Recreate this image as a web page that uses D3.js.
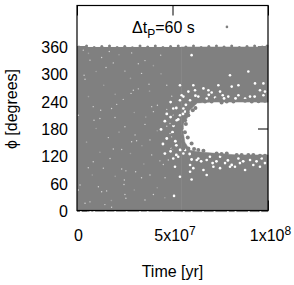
<!DOCTYPE html>
<html>
<head>
<meta charset="utf-8">
<script src="https://cdn.jsdelivr.net/npm/d3@7"></script>
<style>
  body { margin: 0; background: #fff; }
  text { font-family: "Liberation Sans", sans-serif; font-size: 16px; fill: #000; }
</style>
</head>
<body>
<div id="chart"></div>
<script>
// all values: time in Myr, phi in degrees
var yTicks = [0, 60, 120, 180, 240, 300, 360];
var xTicks = [0, 50, 100];
var xTickBase = ["0", "5x10", "1x10"];
var xTickExp = ["", "7", "8"];

// the dense cloud is too thick to read point by point, so it is kept as an outline:
// it fills 0-360 apart from the empty region between holeLow and holeHigh
var holeTime = [54.5, 55.5, 56.5, 59, 63, 71, 84, 100];
var holeLow = [180, 175, 150, 133, 129, 126, 122, 122];
var holeHigh = [180, 185, 200, 220, 236, 238, 238, 238];

// white specks inside the cloud [time, phi]
var gapsUpperLeft = [[43.8,341],[12.9,336],[15.2,314],[3.7,297],[4.2,288],[25.1,306],[33.8,301],[35.6,329],[32.1,322],[37.7,277],
  [32.1,267],[28.3,257],[39.1,228],[42.1,231],[8.5,228],[12.4,220],[50.4,209],[47,222],[49.6,251],[20.8,233],[24.2,244],[8.9,198],
  [19,324],[0.7,209],[35.6,189],[47,185],[19.9,204],[12,202],[6.8,330],[18.1,224],[29.5,264],[47,275],[40,217],[3.3,352],[16.9,349],
  [28.6,346],[48.7,191],[25.1,184]];
var gapsLowerLeft = [[30.4,166],[38.2,155],[16.4,160],[49.6,138],[49.2,136],[50.2,135],[49.6,162],[17.3,114],[5.9,94],[39.1,122],[23.4,91],
  [30.7,85],[25.6,87],[24.8,67],[24.6,57],[33.8,72],[38.2,78],[47.8,111],[43.4,109],[45.2,101],[1.6,56],[0.7,45],[12.9,41],[15.5,43],
  [25.1,35],[25.6,27],[40,35],[6.8,19],[4.2,16],[14.6,13],[18.1,7],[31.2,153],[28.6,151],[19,135],[23.4,134],[13.8,93],[8.5,107],
  [11.2,52],[46.1,72],[35.6,23],[48.7,169]];
var gapsFaint = [[6,345],[22,342],[40,318],[10,305],[28,290],[14,275],[38,262],[20,255],[6,250],[44,300],[30,215],[10,180],[36,205],
  [22,172],[42,175],[5,150],[28,125],[12,128],[35,102],[20,75],[8,78],[42,50],[30,45],[18,22],[46,28],[34,142]];
var gapsUpperRight = [[53.9,275],[60.9,275],[74,275],[84.5,275],[93.2,279],[97.6,279],[55.7,250],[58.3,261],[61.8,264],[66.2,268],
  [70.5,259],[74.9,261],[76.3,253],[79.2,250],[84.5,253],[88,246],[95.8,264],[97.6,253],[98.4,261],[63.5,250],[67.9,246],[72.3,248],
  [90.6,250],[54.8,253],[53.9,242],[59.2,242],[55.7,224],[53.9,209],[52.2,198],[56.6,217],[50.4,224],[60,341],[80.1,297],[89.7,305],
  [68.8,264],[81,272]];
var gapsLowerRight = [[55.7,125],[53,118],[50.4,114],[51.3,96],[59.2,100],[60.9,93],[63.5,114],[62.7,111],[67.9,111],[71.4,96],[74.9,93],
  [74.9,118],[80.1,96],[82.7,96],[85.3,104],[88,89],[92.3,100],[95.8,96],[96.7,114],[98.4,104],[77.5,104],[66.2,89],[59.2,85],[67.9,78],
  [60,68],[50.8,32],[53.9,74],[90.6,111],[84.5,114],[69.6,118],[56.6,133]];
// bigger openings near the tip of the empty region and along its edges
var gapsNearEdge = [[52,225],[57,232],[49,238],[47,212],[55.5,212],[49,205],[53,200],[46,196],[50.5,186],[44,178],[50,172],
  [47,158],[51.5,152],[45,146],[52,143],[49,130],[54,133],[46,125],[52,122],[59,124],[62,252],[69,254],[77,246],[83,246],[93,250],
  [60,112],[65,108],[73,108],[79,110],[87,108],[94,108],[81,100],[71,104]];

// outermost points of the cloud at the top and along the axis [time, phi]
var topEdge = [[1,359],[5,361],[9,358],[13,360],[17,361],[21,358],[25,360],[29,357],[33,361],[37,359],[41,361],[45,358],[49,360],
  [53,361],[57,359],[61,361],[65,358],[69,360],[73,361],[77,359],[81,361],[85,358],[89,360],[93,361],[97,359],[99.5,361]];
var bottomNotches = [[2,-3],[7,-3],[9,-3],[15,-3],[20,-3],[26,-3],[33,-3],[37,-3],[44,-3],[50,-3],[56,-3],[60,-3],[66,-3],[72,-3],[79,-3],[83,-3],[90,-3],[96,-3]];

// separate points along the edge of the empty region [time, phi]
var edgeUpper = [[61.8,239],[64.4,241],[67,239],[70.5,239],[73.1,244],[75.7,237],[78.4,239],[81.9,239],[85.3,244],[88,241],[91.5,239],[95,240],[98.4,241]];
var edgeLower = [[55.7,136],[58.3,136],[61.3,135],[63.5,133],[66.2,131],[73.1,125],[75.7,124],[78.4,125],[83.6,122],[86.2,122],[89.7,122],[92.3,122],[95.8,120],[98.4,120]];
var edgeLeft = [[59.2,231],[60.6,220],[58.3,209],[56.6,198],[54.8,184],[53,217],[51.3,206],[50.4,191],[54.8,180],[53,177],[54.8,162],[53.9,151],[50.4,166],[50.4,138],
  [57,190],[56.5,172],[58,160],[60,147],[58,215],[62,225],[57,205]];

var legendPoint = [[78.5, 403]];

var width = 294, height = 285;
var margin = { top: 5.5, right: 26, bottom: 74.5, left: 77 };
var plotW = width - margin.left - margin.right;
var plotH = height - margin.top - margin.bottom;
var gray = "#808080";

var svg = d3.select("#chart").append("svg")
  .attr("width", width)
  .attr("height", height)
  .style("display", "block")
  .append("g")
  .attr("transform", "translate(" + margin.left + "," + margin.top + ")");

var xx = d3.scaleLinear().domain([0, 100]).range([0, plotW]);
var yy = d3.scaleLinear().domain([0, 450]).range([plotH, 0]);

// ticks go first, the cloud hides them except in the empty region
var left = svg.append("g")
  .call(d3.axisLeft(yy).tickValues(yTicks).tickSize(-10).tickPadding(9));
var bottom = svg.append("g")
  .attr("transform", "translate(0," + plotH + ")")
  .call(d3.axisBottom(xx).tickValues(xTicks).tickSize(-10).tickPadding(19).tickFormat(function (d, i) { return xTickBase[i]; }));
svg.append("g")
  .call(d3.axisTop(xx).tickValues(xTicks).tickSize(-10).tickFormat(""));
svg.append("g")
  .attr("transform", "translate(" + plotW + ",0)")
  .call(d3.axisRight(yy).tickValues(yTicks).tickSize(-10).tickFormat(""));
svg.selectAll(".domain").remove();
left.selectAll("text").attr("dy", "0.38em");

bottom.selectAll("text").each(function (d, i) {
  if (xTickExp[i]) {
    d3.select(this).append("tspan")
      .attr("dy", -6)
      .style("font-size", "12px")
      .text(xTickExp[i]);
  }
});
bottom.selectAll("text").attr("dx", function (d, i) { return xTickExp[i] ? 2 : 1; });

// cloud outline: block left of the empty region, then above and below it
svg.append("rect")
  .attr("x", xx(0))
  .attr("y", yy(359))
  .attr("width", xx(holeTime[0]))
  .attr("height", yy(-2.5) - yy(359))
  .attr("fill", gray);
var upper = d3.area()
  .x(function (d, i) { return xx(holeTime[i]); })
  .y0(function (d, i) { return yy(holeHigh[i]); })
  .y1(function () { return yy(359); });
var lower = d3.area()
  .x(function (d, i) { return xx(holeTime[i]); })
  .y0(function () { return yy(-2.5); })
  .y1(function (d, i) { return yy(holeLow[i]); });

svg.append("path").attr("d", upper(holeTime)).attr("fill", gray).attr("stroke", gray).attr("stroke-width", 0.5);
svg.append("path").attr("d", lower(holeTime)).attr("fill", gray).attr("stroke", gray).attr("stroke-width", 0.5);

function dots(data, color, r) {
  svg.append("g").selectAll("circle")
    .data(data)
    .enter().append("circle")
    .attr("cx", function (d) { return xx(d[0]); })
    .attr("cy", function (d) { return yy(d[1]); })
    .attr("r", r)
    .attr("fill", color);
}

dots(gapsFaint, "#a2a2a2", 0.8);
dots(gapsUpperLeft, "#d4d4d4", 0.7);
dots(gapsLowerLeft, "#d4d4d4", 0.7);
dots(gapsUpperRight, "#fff", 1.3);
dots(gapsLowerRight, "#fff", 1.3);
dots(gapsNearEdge, "#fff", 1.4);
dots(topEdge, gray, 1.5);
dots(bottomNotches, "#fff", 1);
dots(edgeUpper, gray, 2);
dots(edgeLower, gray, 2);
dots(edgeLeft, gray, 2);
dots(legendPoint, gray, 1.3);

// frame on top
svg.append("rect")
  .attr("width", plotW)
  .attr("height", plotH)
  .attr("fill", "none")
  .attr("stroke", "#000")
  .attr("stroke-width", 1.2);

// legend
var legend = svg.append("text").attr("x", 55).attr("y", 27.5);
legend.append("tspan").text("\u0394t");
legend.append("tspan").attr("dy", 5).style("font-size", "12px").text("P");
legend.append("tspan").attr("dy", -5).text("=60 s");

svg.append("text")
  .attr("x", plotW / 2)
  .attr("y", 277 - margin.top)
  .attr("text-anchor", "middle")
  .text("Time [yr]");
svg.append("text")
  .attr("transform", "translate(" + (17 - margin.left) + "," + (109 - margin.top) + ") rotate(-90)")
  .attr("text-anchor", "middle")
  .text("\u03d5 [degrees]");
</script>
</body>
</html>
